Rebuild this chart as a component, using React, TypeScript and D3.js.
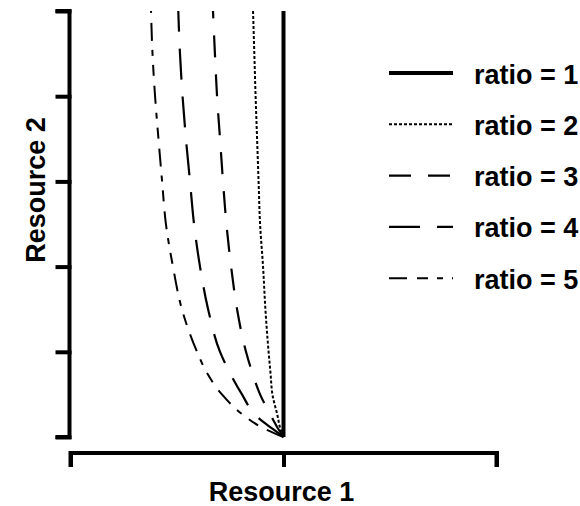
import React, { useRef, useEffect } from 'react'
import * as d3 from 'd3'

// resource 2 levels (y) shared by every curve
const resource2 = [0, 0.1, 0.25, 0.5, 0.75, 1, 1.5, 2, 2.5, 3, 3.5, 4, 4.5, 5]

// resource 1 (x) for each ratio
const ratio1 = [1, 1, 1, 1, 1, 1, 1, 1, 1, 1, 1, 1, 1, 1]
const ratio2 = [1, 0.985, 0.972, 0.948, 0.939, 0.93, 0.915, 0.904, 0.89, 0.883, 0.876, 0.869, 0.863, 0.857]
const ratio3 = [1, 0.974, 0.941, 0.89, 0.854, 0.824, 0.782, 0.754, 0.732, 0.716, 0.702, 0.688, 0.678, 0.669]
const ratio4 = [1, 0.946, 0.871, 0.805, 0.749, 0.702, 0.646, 0.608, 0.58, 0.561, 0.542, 0.526, 0.514, 0.506]
const ratio5 = [1, 0.908, 0.815, 0.711, 0.641, 0.594, 0.523, 0.481, 0.448, 0.43, 0.413, 0.397, 0.385, 0.378]

const labels = ['ratio = 1', 'ratio = 2', 'ratio = 3', 'ratio = 4', 'ratio = 5']
const xTicks = [0, 1, 2]
const yTicks = [0, 1, 2, 3, 4, 5]

const series = [ratio1, ratio2, ratio3, ratio4, ratio5]
const dashes = ['none', '3,2', '22,17', '31,17', '18,10,11,9,6,9']
const widths = [4, 2, 2.2, 2.2, 2]

export default function App() {
  const ref = useRef<SVGSVGElement>(null)

  useEffect(() => {
    const svg = d3.select(ref.current)
    svg.selectAll('*').remove()

    const x = d3.scaleLinear().domain([0, 2]).range([70.5, 496.5])
    const y = d3.scaleLinear().domain([0, 5]).range([437, 11])

    const font = "'Liberation Sans', Arial, Helvetica, sans-serif"

    // y axis
    const yAxis = svg.append('g').attr('transform', 'translate(69.5,0)')
      .call(d3.axisLeft(y).tickValues(yTicks).tickSize(12).tickFormat(() => ''))
    yAxis.select('.domain').attr('d', `M-12,${y(5)}H0V${y(0)}H-12`)
    yAxis.selectAll('path, line').attr('stroke', '#000').attr('stroke-width', 4)
      .attr('stroke-linecap', 'square')

    // x axis, offset below
    const xAxis = svg.append('g').attr('transform', 'translate(0,453)')
      .call(d3.axisBottom(x).tickValues(xTicks).tickSize(12).tickFormat(() => ''))
    xAxis.select('.domain').attr('d', `M${x(0)},12V0H${x(2)}V12`)
    xAxis.selectAll('path, line').attr('stroke', '#000').attr('stroke-width', 4)
      .attr('stroke-linecap', 'square')

    const line = d3.line<number>()
      .x(d => x(d))
      .y((d, i) => y(resource2[i]))
      .curve(d3.curveMonotoneY)

    series.forEach((s, i) => {
      svg.append('path')
        .attr('d', line(s))
        .attr('fill', 'none')
        .attr('stroke', '#000')
        .attr('stroke-width', widths[i])
        .attr('stroke-dasharray', dashes[i])
    })

    // legend
    const legend = svg.append('g')
    labels.forEach((lab, i) => {
      const ly = 73 + i * 51.3
      legend.append('line')
        .attr('x1', 389).attr('x2', 453)
        .attr('y1', ly).attr('y2', ly)
        .attr('stroke', '#000')
        .attr('stroke-width', widths[i])
        .attr('stroke-dasharray', dashes[i])
      legend.append('text')
        .attr('x', 474).attr('y', ly + 10.5)
        .attr('font-family', font).attr('font-weight', 'bold')
        .attr('font-size', 27)
        .text(lab)
    })

    svg.append('text')
      .attr('x', 281.5).attr('y', 501)
      .attr('text-anchor', 'middle')
      .attr('font-family', font).attr('font-weight', 'bold')
      .attr('font-size', 27)
      .text('Resource 1')

    svg.append('text')
      .attr('transform', 'translate(45,190) rotate(-90)')
      .attr('text-anchor', 'middle')
      .attr('font-family', font).attr('font-weight', 'bold')
      .attr('font-size', 27)
      .text('Resource 2')
  }, [])

  return (
    <svg
      ref={ref}
      width={580}
      height={506}
      style={{ position: 'absolute', left: 0, top: 0, background: '#fff' }}
    />
  )
}
